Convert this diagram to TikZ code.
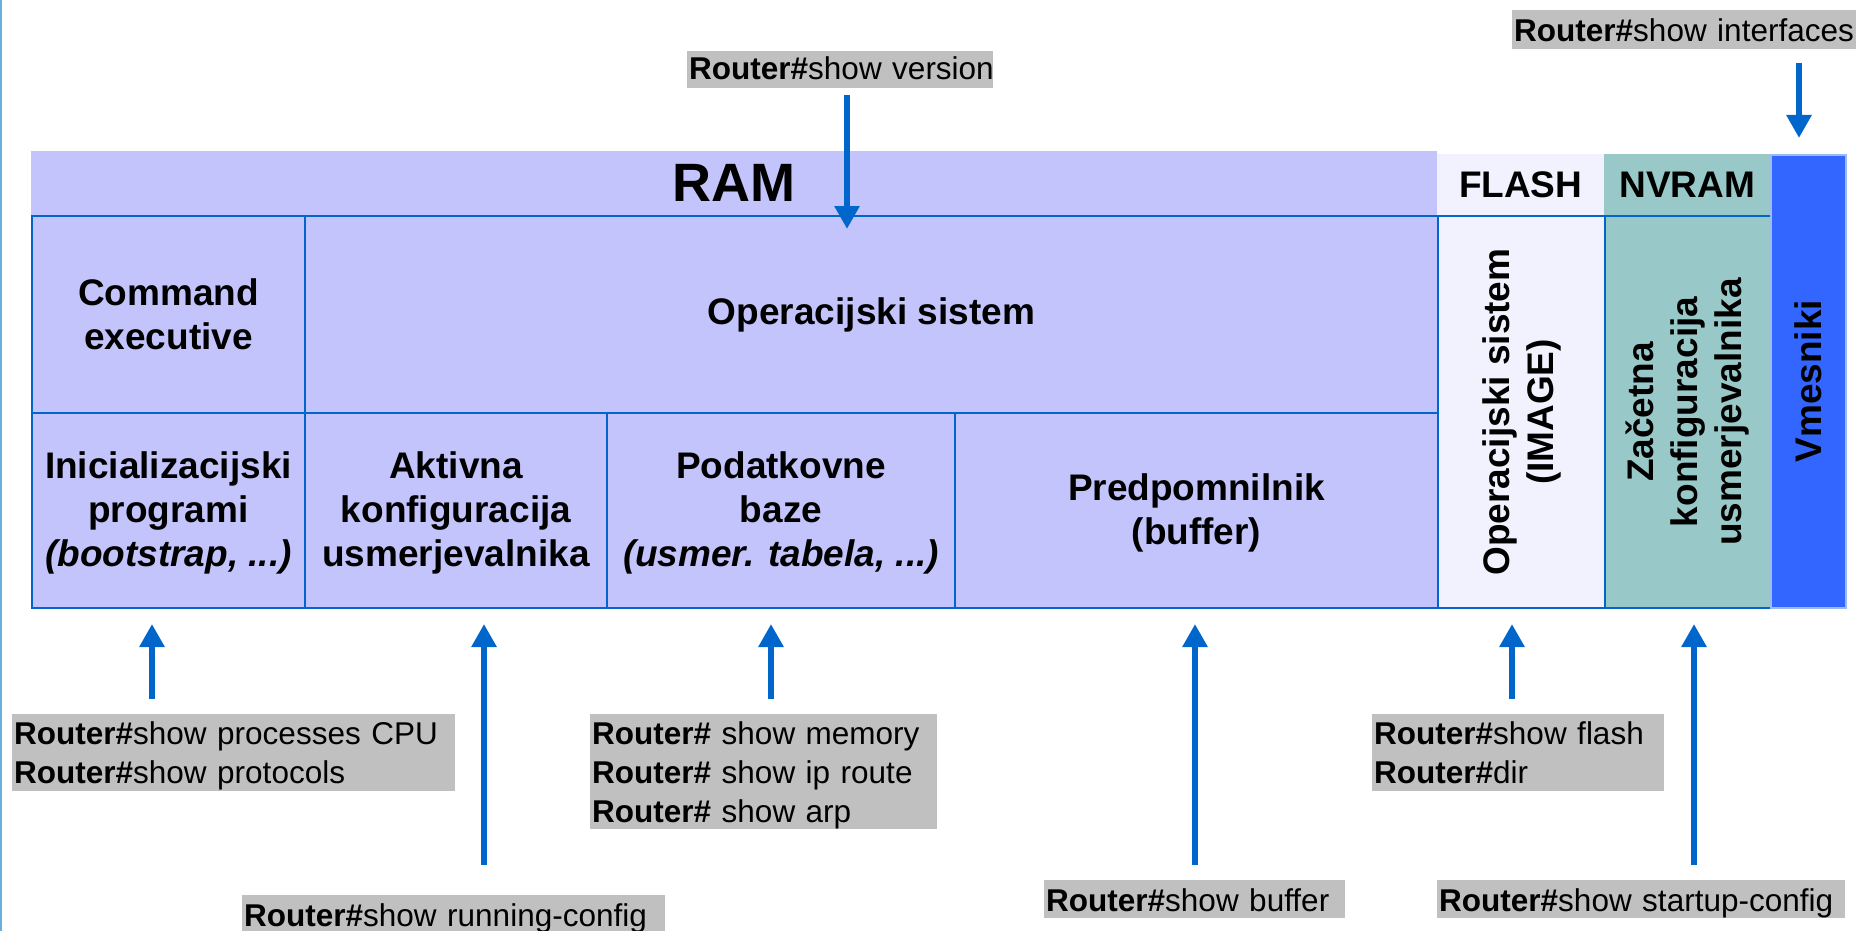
\documentclass[tikz,border=0pt]{standalone}
\usepackage{fontspec}
\setmainfont{Liberation Sans}
\usetikzlibrary{arrows.meta}
\definecolor{ramfill}{HTML}{C4C4FC}
\definecolor{flashfill}{HTML}{F2F2FF}
\definecolor{nvramfill}{HTML}{99C8C8}
\definecolor{ifacefill}{HTML}{3366FF}
\definecolor{ifaceedge}{HTML}{99BBF0}
\definecolor{cellline}{HTML}{0066CC}
\definecolor{cmdgray}{HTML}{C0C0C0}
\definecolor{frameline}{HTML}{6AAEE0}
\tikzstyle{header}=[inner sep=0, anchor=north west, font=\bfseries\fontsize{37}{44}\selectfont]
\tikzstyle{cell}=[draw=cellline, line width=2pt, fill=ramfill, inner sep=0, anchor=north west, align=center, font=\bfseries\fontsize{37}{44}\selectfont]
\tikzstyle{vertical}=[rotate=90, inner sep=0, align=center, font=\bfseries\fontsize{37}{44}\selectfont]
\tikzstyle{command}=[fill=cmdgray, inner xsep=2pt, inner ysep=0, anchor=north west, align=left, text height=30pt, font=\fontsize{31.5}{39}\selectfont]
\tikzstyle{pointer}=[draw=cellline, line width=6.5pt, -{Triangle[length=23pt, width=24pt]}]
\newcommand{\rt}{\textbf{Router\#}}

\begin{document}
\begin{tikzpicture}[x=1pt, y=-1pt]
  \useasboundingbox (0,0) rectangle (1860,931);
  \draw[frameline, line width=1.5pt] (1,0) -- (1,931);

  % memory headers
  \node[header, fill=ramfill, minimum width=1406pt, minimum height=64pt,
        font=\bfseries\fontsize{54}{60}\selectfont] (ram) at (31,151) {RAM};
  \node[header, fill=flashfill, minimum width=167pt, minimum height=61pt] (flash) at (1437,154) {FLASH};
  \node[header, fill=nvramfill, minimum width=166pt, minimum height=61pt] (nvram) at (1604,154) {NVRAM};

  % RAM contents
  \node[cell, minimum width=273pt, minimum height=197pt] (cmdexec) at (31,215) {Command\\executive};
  \node[cell, minimum width=1133pt, minimum height=197pt] (os) at (304,215) {Operacijski sistem};
  \node[cell, minimum width=273pt, minimum height=195pt, text depth=2pt] (init) at (31,412)
    {Inicializacijski\\programi\\\textit{(bootstrap, ...)}};
  \node[cell, minimum width=302pt, minimum height=195pt, text depth=2pt] (runcfg) at (304,412)
    {Aktivna\\konfiguracija\\usmerjevalnika};
  \node[cell, minimum width=348pt, minimum height=195pt, text depth=2pt] (dbase) at (606,412)
    {Podatkovne\\baze\\\textit{(usmer. tabela, ...)}};
  \node[cell, minimum width=483pt, minimum height=195pt, text depth=2pt] (buffer) at (954,412)
    {Predpomnilnik\\(buffer)};

  % FLASH, NVRAM, vmesniki
  \node[cell, fill=flashfill, minimum width=167pt, minimum height=392pt] (flashos) at (1437,215) {};
  \node[vertical] (flashostxt) at (flashos.center) {Operacijski sistem\\(IMAGE)};
  \node[cell, fill=nvramfill, minimum width=166pt, minimum height=392pt] (startcfg) at (1604,215) {};
  \node[vertical] (startcfgtxt) at (startcfg.center) {Začetna\\konfiguracija\\usmerjevalnika};
  \node[cell, fill=ifacefill, draw=ifaceedge, line width=1.5pt, minimum width=75pt, minimum height=453pt] (ifaces) at (1770,154) {};
  \node[vertical] (ifacestxt) at (ifaces.center) {Vmesniki};

  % commands
  \node[command, text width=302pt, text height=28pt, text depth=9pt] (c-ver) at (687,51) {\mbox{\rt show version}};
  \node[command, text width=340pt, text height=31pt, text depth=8pt] (c-if) at (1512,10) {\mbox{\rt show interfaces}};
  \node[command, text width=439pt, text depth=47pt] (c-proc) at (12,714)
    {\rt show processes CPU\\\rt show protocols};
  \node[command, text width=343pt, text depth=85pt] (c-mem) at (590,714)
    {\rt\ show memory\\\rt\ show ip route\\\rt\ show arp};
  \node[command, text width=288pt, text depth=47pt] (c-flash) at (1372,714)
    {\rt show flash\\\rt dir};
  \node[command, text width=419pt, text height=31pt, text depth=9pt] (c-run) at (242,895) {\mbox{\rt show running-config}};
  \node[command, text width=297pt, text height=31pt, text depth=7pt] (c-buf) at (1044,880) {\mbox{\rt show buffer}};
  \node[command, text width=404pt, text height=31pt, text depth=7pt] (c-start) at (1437,880) {\mbox{\rt show startup-config}};

  % arrows
  \coordinate (p-ver) at (847,95);
  \coordinate (p-if) at (1799,63);
  \coordinate (p-init) at (152,699);
  \coordinate (p-run) at (484,865);
  \coordinate (p-db) at (771,699);
  \coordinate (p-buf) at (1195,865);
  \coordinate (p-flash) at (1512,699);
  \coordinate (p-start) at (1694,865);
  \draw[pointer, shorten >=-14pt] (p-ver) -- (p-ver |- os.north);
  \draw[pointer, shorten >=16pt] (p-if) -- (p-if |- ifaces.north);
  \draw[pointer, shorten >=15pt] (p-init) -- (p-init |- init.south);
  \draw[pointer, shorten >=15pt] (p-run) -- (p-run |- runcfg.south);
  \draw[pointer, shorten >=15pt] (p-db) -- (p-db |- dbase.south);
  \draw[pointer, shorten >=15pt] (p-buf) -- (p-buf |- buffer.south);
  \draw[pointer, shorten >=15pt] (p-flash) -- (p-flash |- flashos.south);
  \draw[pointer, shorten >=15pt] (p-start) -- (p-start |- startcfg.south);
\end{tikzpicture}
\end{document}
